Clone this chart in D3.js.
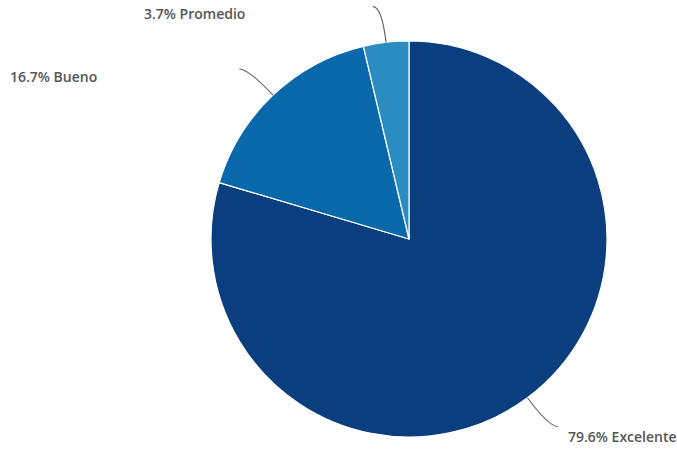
<!DOCTYPE html>
<html>
<head>
<meta charset="utf-8">
<script src="https://cdn.jsdelivr.net/npm/d3@7"></script>
<style>
  html, body { margin: 0; padding: 0; background: #fff; }
  svg { display: block; }
  .lbl { font-family: "Open Sans", Lato, sans-serif; font-weight: 600; font-size: 14px; fill: #555; }
</style>
</head>
<body>
<svg id="chart" width="677" height="450"></svg>
<script>
// Rating distribution (percent of responses)
const categories = ["Excelente", "Bueno", "Promedio"];
const values = [79.6, 16.7, 3.7];
const colors = ["#0a3e7e", "#0868aa", "#2b8cc1"];

const W = 677, H = 450;
const cx = 409, cy = 239, R = 198;

// label text placement per slice: [x, y, anchor]
const labelPlacement = {
  "Excelente": [568, 442, "start"],
  "Bueno":     [10, 82, "start"],
  "Promedio":  [144, 19, "start"]
};

const svg = d3.select("#chart");
const g = svg.append("g").attr("transform", `translate(${cx},${cy})`);

const pie = d3.pie().sort(null).value(d => d.v);
const arcs = pie(categories.map((c, i) => ({ c, v: values[i], col: colors[i] })));
const arc = d3.arc().innerRadius(0).outerRadius(R);

g.selectAll("path.slice")
  .data(arcs)
  .join("path")
  .attr("class", "slice")
  .attr("d", arc)
  .attr("fill", d => d.data.col)
  .attr("stroke", "#fff")
  .attr("stroke-width", 1.2)
  .attr("stroke-linejoin", "round");

// curved connectors from slice edge outward
function pt(angle, r) {
  return [Math.sin(angle) * r, -Math.cos(angle) * r];
}
g.selectAll("path.conn")
  .data(arcs)
  .join("path")
  .attr("class", "conn")
  .attr("fill", "none")
  .attr("stroke", "#5a5f66")
  .attr("stroke-width", 1.1)
  .attr("d", d => {
    const a = (d.startAngle + d.endAngle) / 2;
    const p0 = pt(a, R);
    const p1 = pt(a, R + 36);
    const dir = Math.sin(a) >= 0 ? 1 : -1;
    const p2 = [p1[0] + dir * 9, p1[1]];
    return `M${p0[0]},${p0[1]}Q${p1[0]},${p1[1]} ${p2[0]},${p2[1]}`;
  });

svg.selectAll("text.lbl")
  .data(arcs)
  .join("text")
  .attr("class", "lbl")
  .attr("x", d => labelPlacement[d.data.c][0])
  .attr("y", d => labelPlacement[d.data.c][1])
  .attr("text-anchor", d => labelPlacement[d.data.c][2])
  .text(d => `${d.data.v.toFixed(1)}% ${d.data.c}`);
</script>
</body>
</html>
